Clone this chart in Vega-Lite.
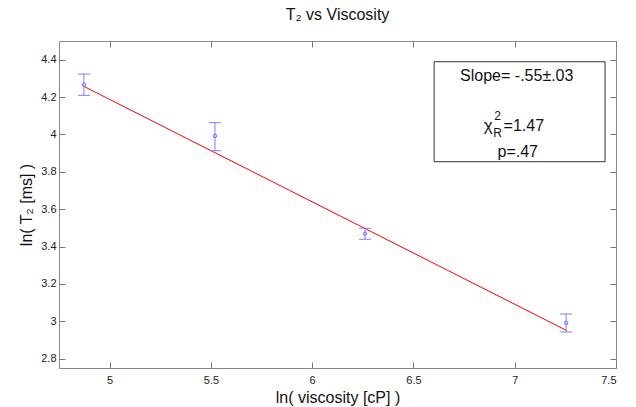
{
  "$schema": "https://vega.github.io/schema/vega-lite/v6.json",
  "width": 557,
  "height": 327,
  "autosize": {"type": "none"},
  "padding": {"left": 59, "top": 41, "right": 20, "bottom": 39},
  "background": "white",
  "config": {
    "font": "Liberation Sans",
    "view": {"stroke": "#888888", "strokeWidth": 1},
    "axis": {"grid": false, "domain": false, "tickColor": "#777777", "labelColor": "#222222", "labelFont": "Liberation Sans", "labelFontSize": 11, "titleFont": "Liberation Sans", "titleFontWeight": "normal", "titleFontSize": 16, "titleColor": "#111111"}
  },
  "title": {"text": "T₂ vs Viscosity", "fontSize": 16, "fontWeight": "normal", "font": "Liberation Sans", "color": "#111111", "offset": 18},
  "datasets": {
    "pts": [
      {"lnv": 4.873, "lnt": 4.266, "lo": 4.209, "hi": 4.323},
      {"lnv": 5.52, "lnt": 3.992, "lo": 3.913, "hi": 4.063},
      {"lnv": 6.261, "lnt": 3.469, "lo": 3.439, "hi": 3.498},
      {"lnv": 7.254, "lnt": 2.991, "lo": 2.943, "hi": 3.039}
    ],
    "fit": [
      {"lnv": 4.873, "lnt": 4.257},
      {"lnv": 7.254, "lnt": 2.952}
    ],
    "box": [{"x1": 6.602, "x2": 7.446, "y1": 3.854, "y2": 4.389}],
    "txt": [
      {"x": 7.01, "y": 4.314, "label": "Slope= -.55±.03"},
      {"x": 7.015, "y": 3.905, "label": "p=.47"}
    ],
    "chi": [{"x": 6.94, "y": 4.047}]
  },
  "layer": [
    {
      "data": {"name": "box"},
      "mark": {"type": "rect", "fill": "white", "stroke": "#333333", "strokeWidth": 1},
      "encoding": {
        "x": {"field": "x1", "type": "quantitative", "scale": {"domain": [4.75, 7.5], "nice": false, "zero": false},
              "axis": {"orient": "bottom", "values": [5, 5.5, 6, 6.5, 7, 7.5], "format": ".1~f", "tickSize": -6, "labelPadding": 12, "title": "ln( viscosity [cP] )", "titlePadding": 4}},
        "x2": {"field": "x2"},
        "y": {"field": "y1", "type": "quantitative", "scale": {"domain": [2.75, 4.5], "nice": false, "zero": false},
              "axis": {"orient": "left", "values": [2.8, 3, 3.2, 3.4, 3.6, 3.8, 4, 4.2, 4.4], "format": ".1~f", "tickSize": -6, "labelPadding": 9, "title": "ln( T₂ [ms] )", "titlePadding": 6}},
        "y2": {"field": "y2"}
      }
    },
    {
      "data": {"name": "fit"},
      "mark": {"type": "line", "color": "#ff0000", "strokeWidth": 1},
      "encoding": {
        "x": {"field": "lnv", "type": "quantitative", "axis": {"orient": "top", "values": [5, 5.5, 6, 6.5, 7, 7.5], "labels": false, "tickSize": -6, "title": null}},
        "y": {"field": "lnt", "type": "quantitative", "axis": {"orient": "right", "values": [2.8, 3, 3.2, 3.4, 3.6, 3.8, 4, 4.2, 4.4], "labels": false, "tickSize": -6, "title": null}}
      }
    },
    {
      "data": {"name": "pts"},
      "mark": {"type": "rule", "color": "#7f7fff", "strokeWidth": 1},
      "encoding": {
        "x": {"field": "lnv", "type": "quantitative", "axis": null},
        "y": {"field": "lo", "type": "quantitative", "axis": null},
        "y2": {"field": "hi"}
      }
    },
    {
      "data": {"name": "pts"},
      "mark": {"type": "tick", "color": "#7f7fff", "orient": "horizontal", "size": 12, "thickness": 1, "opacity": 1},
      "encoding": {
        "x": {"field": "lnv", "type": "quantitative", "axis": null},
        "y": {"field": "lo", "type": "quantitative", "axis": null}
      }
    },
    {
      "data": {"name": "pts"},
      "mark": {"type": "tick", "color": "#7f7fff", "orient": "horizontal", "size": 12, "thickness": 1, "opacity": 1},
      "encoding": {
        "x": {"field": "lnv", "type": "quantitative", "axis": null},
        "y": {"field": "hi", "type": "quantitative", "axis": null}
      }
    },
    {
      "data": {"name": "pts"},
      "mark": {"type": "point", "shape": "circle", "size": 12, "filled": false, "color": "#6f6fff", "strokeWidth": 1, "opacity": 1},
      "encoding": {
        "x": {"field": "lnv", "type": "quantitative", "axis": null},
        "y": {"field": "lnt", "type": "quantitative", "axis": null}
      }
    },
    {
      "data": {"name": "txt"},
      "mark": {"type": "text", "fontSize": 16, "color": "#111111", "align": "center", "baseline": "middle"},
      "encoding": {
        "x": {"field": "x", "type": "quantitative", "axis": null},
        "y": {"field": "y", "type": "quantitative", "axis": null},
        "text": {"field": "label"}
      }
    },
    {
      "data": {"name": "chi"},
      "mark": {"type": "text", "fontSize": 17, "color": "#111111", "align": "right", "baseline": "middle", "dx": -10, "text": "χ"},
      "encoding": {
        "x": {"field": "x", "type": "quantitative", "axis": null},
        "y": {"field": "y", "type": "quantitative", "axis": null}
      }
    },
    {
      "data": {"name": "chi"},
      "mark": {"type": "text", "fontSize": 12, "color": "#111111", "align": "center", "baseline": "middle", "dx": -5, "dy": -10, "text": "2"},
      "encoding": {
        "x": {"field": "x", "type": "quantitative", "axis": null},
        "y": {"field": "y", "type": "quantitative", "axis": null}
      }
    },
    {
      "data": {"name": "chi"},
      "mark": {"type": "text", "fontSize": 12, "color": "#111111", "align": "center", "baseline": "middle", "dx": -5, "dy": 7, "text": "R"},
      "encoding": {
        "x": {"field": "x", "type": "quantitative", "axis": null},
        "y": {"field": "y", "type": "quantitative", "axis": null}
      }
    },
    {
      "data": {"name": "chi"},
      "mark": {"type": "text", "fontSize": 16, "color": "#111111", "align": "left", "baseline": "middle", "dx": 1, "text": "=1.47"},
      "encoding": {
        "x": {"field": "x", "type": "quantitative", "axis": null},
        "y": {"field": "y", "type": "quantitative", "axis": null}
      }
    }
  ],
  "resolve": {"axis": {"x": "independent", "y": "independent"}}
}
